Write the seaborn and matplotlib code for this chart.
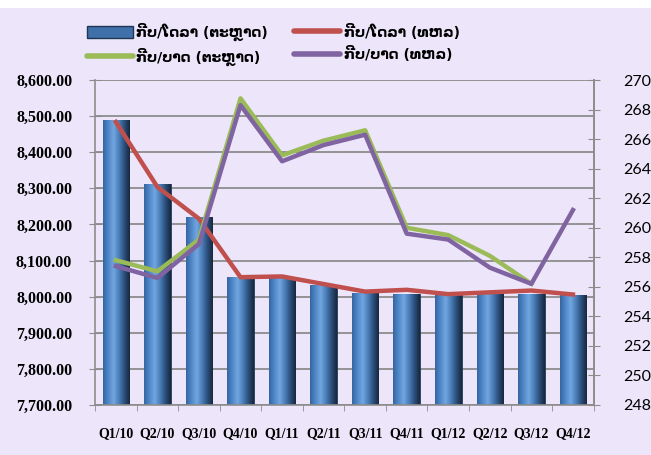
import numpy as np
import pandas as pd
import seaborn as sns
import matplotlib.pyplot as plt
from matplotlib.colors import LinearSegmentedColormap
from matplotlib.lines import Line2D
from matplotlib.patches import Patch, Rectangle
from matplotlib.ticker import NullFormatter, FixedLocator

# data
quarters = ['Q1/10', 'Q2/10', 'Q3/10', 'Q4/10', 'Q1/11', 'Q2/11',
            'Q3/11', 'Q4/11', 'Q1/12', 'Q2/12', 'Q3/12', 'Q4/12']
usd_market = [8489, 8313, 8220, 8054, 8053, 8033, 8011, 8007, 8007, 8007, 8007, 8005]
usd_bol = [8484, 8304, 8216, 8054, 8056, 8035, 8014, 8019, 8007, 8012, 8017, 8006]
thb_market = [257.8, 257.05, 259.2, 268.76, 264.9, 265.9, 266.6, 260.0, 259.5, 258.1, 256.2, np.nan]
thb_bol = [257.4, 256.6, 258.9, 268.3, 264.5, 265.6, 266.3, 259.6, 259.2, 257.3, 256.2, 261.2]

labels = ['ກີບ/ໂດລາ (ຕະຫຼາດ)', 'ກີບ/ບາດ (ຕະຫຼາດ)', 'ກີບ/ໂດລາ (ທຫລ)', 'ກີບ/ບາດ (ທຫລ)']

df = pd.DataFrame({'q': quarters, 'usd_m': usd_market, 'usd_b': usd_bol,
                   'thb_m': thb_market, 'thb_b': thb_bol})

bg = '#EDE6FA'
red = '#C0504D'
green = '#9BBB59'
purple = '#8064A2'
grid_c = '#8C8C8C'
ymin, ymax = 7700, 8600

fig = plt.figure(figsize=(6.51, 4.55), dpi=100, facecolor='white')
fig.suppressComposite = True
fig.patches.append(Rectangle((0.0, 0.0), 1.0, 0.983, transform=fig.transFigure,
                             facecolor=bg, edgecolor='none', zorder=-10))
ax = fig.add_axes([0.146, 0.11, 0.766, 0.714])
ax.set_facecolor('none')

sns.barplot(data=df, x='q', y='usd_m', color='#4F81BD', width=0.64, ax=ax,
            saturation=1, zorder=2)

# cylinder-ish shading on the bars (only the visible part of each bar)
cmap = LinearSegmentedColormap.from_list('cyl', ['#3464A0', '#5088C8', '#72A6E0',
                                                 '#4A7DB8', '#2B4E7A', '#17273D'])
grad = np.linspace(0, 1, 256).reshape(1, -1)
for p in list(ax.patches):
    x0, w, top = p.get_x(), p.get_width(), p.get_y() + p.get_height()
    im = ax.imshow(grad, cmap=cmap, aspect='auto',
                   extent=[x0, x0 + w, ymin, top], zorder=2.2)
    im.set_clip_path(p)
    p.set_edgecolor('#1E3553')
    p.set_linewidth(0.6)

sns.lineplot(data=df, x='q', y='usd_b', color=red, linewidth=3.2, sort=False,
             ax=ax, zorder=4)

ax.set_xlim(-0.5, 11.5)
ax.set_ylim(ymin, ymax)
ax.set_yticks(np.arange(ymin, ymax + 1, 100))
ax.set_yticklabels([f'{v:,.2f}' for v in np.arange(ymin, ymax + 1, 100)],
                   fontfamily='Liberation Serif', fontweight='bold', fontsize=11.5)
ax.yaxis.grid(True, color=grid_c, linewidth=1.3, zorder=0)
ax.set_axisbelow(True)
ax.set_xlabel('')
ax.set_ylabel('')
ax.set_xticks(range(len(quarters)))
ax.set_xticklabels(quarters, fontfamily='Liberation Serif', fontweight='bold', fontsize=10)
ax.tick_params(axis='x', length=0, pad=16)
ax.xaxis.set_minor_locator(FixedLocator(np.arange(-0.5, 12, 1)))
ax.xaxis.set_minor_formatter(NullFormatter())
ax.tick_params(axis='x', which='minor', length=4, color=grid_c, direction='out')
ax.tick_params(axis='y', length=9, color=grid_c, direction='inout', pad=12)
for s in ['left', 'bottom', 'right']:
    ax.spines[s].set_color(grid_c)
    ax.spines[s].set_linewidth(1.2)
ax.spines['top'].set_visible(False)

ax2 = ax.twinx()
sns.lineplot(data=df, x='q', y='thb_m', color=green, linewidth=3.2, sort=False, ax=ax2)
sns.lineplot(data=df, x='q', y='thb_b', color=purple, linewidth=3.2, sort=False, ax=ax2)
ax2.set_ylim(248, 270)
ax2.set_yticks(np.arange(248, 271, 2))
ax2.set_yticklabels([str(v) for v in range(248, 271, 2)], fontfamily='Lato', fontsize=11.5)
ax2.tick_params(axis='y', length=9, color=grid_c, direction='inout', pad=17)
ax2.set_ylabel('')
ax2.set_xlabel('')
for s in ['left', 'bottom', 'top']:
    ax2.spines[s].set_visible(False)
ax2.spines['right'].set_color(grid_c)
ax2.spines['right'].set_linewidth(1.2)
ax.set_xlim(-0.5, 11.5)

handles = [Patch(facecolor='#3F70AA', edgecolor='#1E3553'),
           Line2D([], [], color=green, linewidth=4, solid_capstyle='round'),
           Line2D([], [], color=red, linewidth=4, solid_capstyle='round'),
           Line2D([], [], color=purple, linewidth=4, solid_capstyle='round')]
fig.legend(handles, labels, loc='upper center', bbox_to_anchor=(0.42, 0.978), ncol=2,
           frameon=False, handlelength=3.3, handleheight=1.0, handletextpad=0.25,
           columnspacing=1.9, labelspacing=0.5,
           prop={'family': ['DejaVu Sans'], 'size': 10, 'weight': 'bold'})

fig.savefig('out.png', dpi=100, facecolor=fig.get_facecolor())
